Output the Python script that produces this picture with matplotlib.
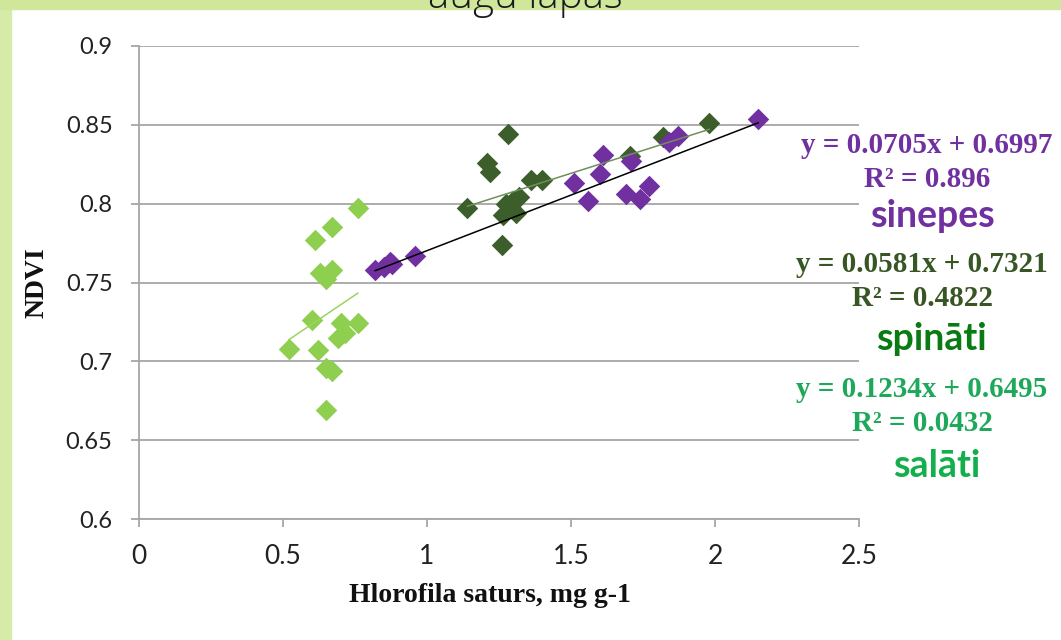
import numpy as np
import matplotlib
matplotlib.use('Agg')
import matplotlib.pyplot as plt
from matplotlib.patches import Rectangle

# Hlorofila saturs (mg g-1) un NDVI
salati_x = [0.52, 0.60, 0.61, 0.62, 0.63, 0.65, 0.65, 0.65, 0.67, 0.67, 0.67, 0.69, 0.70, 0.715, 0.76, 0.76]
salati_y = [0.708, 0.726, 0.777, 0.707, 0.756, 0.752, 0.696, 0.669, 0.785, 0.758, 0.694, 0.715, 0.724, 0.718, 0.797, 0.724]

spinati_x = [1.14, 1.21, 1.22, 1.26, 1.265, 1.275, 1.28, 1.29, 1.30, 1.31, 1.32, 1.36, 1.40, 1.705, 1.82, 1.98]
spinati_y = [0.797, 0.826, 0.820, 0.774, 0.793, 0.800, 0.844, 0.797, 0.802, 0.794, 0.804, 0.815, 0.815, 0.830, 0.842, 0.851]

sinepes_x = [0.82, 0.85, 0.87, 0.88, 0.96, 1.51, 1.56, 1.60, 1.61, 1.69, 1.71, 1.74, 1.77, 1.84, 1.87, 2.15]
sinepes_y = [0.758, 0.760, 0.763, 0.762, 0.767, 0.813, 0.802, 0.819, 0.831, 0.806, 0.827, 0.803, 0.811, 0.839, 0.843, 0.854]

# trendu koeficienti: slipums, brivais loceklis, R2
sinepes_fit = (0.0705, 0.6997, '0.896')
spinati_fit = (0.0581, 0.7321, '0.4822')
salati_fit = (0.1234, 0.6495, '0.0432')

purple = '#7030a0'
dgreen = '#3b5e2b'
lgreen = '#8fcf4f'

W, H = 1061, 640
fig = plt.figure(figsize=(W / 100, H / 100), dpi=100)
fig.patch.set_facecolor('white')

# zalais ramis
fig.patches.append(Rectangle((0, 0), 11 / W, 1, transform=fig.transFigure,
                             color='#d6eba8', zorder=0))
fig.patches.append(Rectangle((0, 1 - 9 / H), 1, 9 / H, transform=fig.transFigure,
                             color='#cfe69b', zorder=0))

fig.text(525 / W, 1 - 8 / H, 'augu lapas', ha='center', va='baseline',
         fontsize=29, family=['Open Sans', 'DejaVu Sans'], weight='light', color='#1a1a1a')

ax = fig.add_axes([139 / W, 1 - 519 / H, (859 - 139) / W, (519 - 46) / H])

ax.scatter(salati_x, salati_y, marker='D', s=120, color=lgreen, linewidths=0, zorder=3)
ax.scatter(spinati_x, spinati_y, marker='D', s=120, color=dgreen, linewidths=0, zorder=3)
ax.scatter(sinepes_x, sinepes_y, marker='D', s=120, color=purple, linewidths=0, zorder=3)

def trend(xs, fit, color):
    xx = np.array([min(xs), max(xs)])
    ax.plot(xx, fit[0] * xx + fit[1], color=color, lw=1.1, zorder=4)

trend(salati_x, salati_fit, '#9ad462')
trend(spinati_x, spinati_fit, '#6f8f5c')
trend(sinepes_x, sinepes_fit, 'black')

ax.set_xlim(0, 2.5)
ax.set_ylim(0.6, 0.9)
ax.set_xticks([0, 0.5, 1, 1.5, 2, 2.5])
ax.set_xticklabels(['0', '0.5', '1', '1.5', '2', '2.5'])
ax.set_yticks([0.6, 0.65, 0.7, 0.75, 0.8, 0.85, 0.9])
ax.set_yticklabels(['0.6', '0.65', '0.7', '0.75', '0.8', '0.85', '0.9'])

ax.grid(axis='y', color='#a6a6a6', lw=1.3)
ax.set_axisbelow(True)
for s in ['top', 'right']:
    ax.spines[s].set_visible(False)
for s in ['left', 'bottom']:
    ax.spines[s].set_color('#a6a6a6')
    ax.spines[s].set_linewidth(1.3)
ax.tick_params(axis='y', length=6, width=1.3, color='#a6a6a6', pad=13,
               labelsize=17, labelcolor='#222222')
ax.tick_params(axis='x', length=6, width=1.3, color='#a6a6a6', pad=12,
               labelsize=19, labelcolor='#222222')
for t in ax.get_yticklabels():
    t.set_family(['Lato', 'DejaVu Sans'])
for t in ax.get_xticklabels():
    t.set_family(['Lato', 'DejaVu Sans'])

serif = ['Liberation Serif', 'DejaVu Serif']
ax.set_xlabel('Hlorofila saturs, mg g-1', family=serif, weight='bold', fontsize=20,
              color='#111111', labelpad=14)
ax.xaxis.set_label_coords(0.4875, -0.135)
ax.set_ylabel('NDVI', family=serif, weight='bold', fontsize=20, color='#111111', labelpad=12)

def label(x, y, s, color, size=21, fam=serif):
    fig.text(x / W, 1 - y / H, s, ha='center', va='baseline', color=color,
             fontsize=size, family=fam, weight='bold')

sans = ['Lato', 'DejaVu Sans']
# vienadojums, R2 un nosaukums pa labi no grafika
fits = [(sinepes_fit, purple, 'sinepes', purple, 153, 927, 932, 74),
        (spinati_fit, '#375623', 'spināti', '#0a7a12', 272, 922, 931, 78),
        (salati_fit, '#1ea85a', 'salāti', '#12b04c', 397, 922, 937, 80)]
for fit, ecol, name, ncol, y0, xc, xn, dy in fits:
    label(xc, y0, 'y = %sx + %s' % (fit[0], fit[1]), ecol)
    label(xc, y0 + 34, 'R² = %s' % fit[2], ecol)
    label(xn, y0 + dy, name, ncol, size=27, fam=sans)

fig.savefig('out.png', dpi=100)
